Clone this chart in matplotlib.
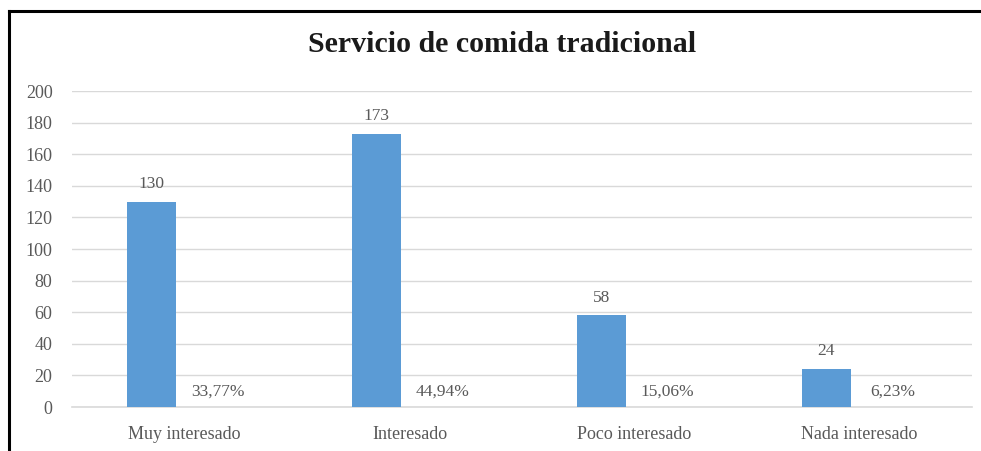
import matplotlib
matplotlib.use("Agg")
import matplotlib.pyplot as plt
from matplotlib.lines import Line2D
import numpy as np

categories = ["Muy interesado", "Interesado", "Poco interesado", "Nada interesado"]
counts = [130, 173, 58, 24]
percents = [33.77, 44.94, 15.06, 6.23]
yticks = [0, 20, 40, 60, 80, 100, 120, 140, 160, 180, 200]

plt.rcParams['font.family'] = ['Liberation Serif', 'DejaVu Serif']
txt = '#595959'

fig = plt.figure(figsize=(9.81, 4.51), dpi=100)
fig.patch.set_facecolor('white')
ax = fig.add_axes([72/981, 1-407/451, 900/981, (407-91)/451])

x = np.arange(len(categories))
w = 0.218
off = 0.1467
bars = ax.bar(x - off, counts, width=w, color='#5B9BD5', zorder=3)
pbars = ax.bar(x + off, [p/100 for p in percents], width=w, color='none', zorder=3)

for b, v in zip(bars, counts):
    ax.annotate(str(v), (b.get_x() + b.get_width()/2, v), xytext=(0, 7),
                textcoords='offset points', ha='center', va='bottom',
                fontsize=12.5, color=txt)
for b, p in zip(pbars, percents):
    s = f"{p:.2f}%".replace('.', ',')
    ax.annotate(s, (b.get_x() + b.get_width()/2, b.get_height()), xytext=(0, 5),
                textcoords='offset points', ha='center', va='bottom',
                fontsize=12.5, color=txt)

ax.set_xlim(-0.5, len(categories) - 0.5)
ax.set_ylim(0, 200)
ax.set_yticks(yticks)
ax.set_xticks(x)
ax.set_xticklabels(categories)
ax.tick_params(axis='both', length=0, labelsize=13, labelcolor=txt)
ax.tick_params(axis='y', pad=14)
ax.tick_params(axis='x', pad=14)
ax.yaxis.grid(True, color='#d9d9d9', linewidth=1, zorder=0)
ax.axhline(0, color='#d9d9d9', linewidth=1.2, zorder=1, clip_on=False)
ax.set_axisbelow(True)
for s in ax.spines.values():
    s.set_visible(False)

fig.text(502/981, 1-45/451, "Servicio de comida tradicional", ha='center', va='center',
         fontsize=21.5, fontweight='bold', color='#1a1a1a')

fig.add_artist(Line2D([8.5/981, 1], [1-11/451, 1-11/451], color='black', linewidth=2.2, transform=fig.transFigure))
fig.add_artist(Line2D([8.5/981, 8.5/981], [0, 1-11/451], color='black', linewidth=2.2, transform=fig.transFigure))

fig.savefig('out.png', dpi=100)
